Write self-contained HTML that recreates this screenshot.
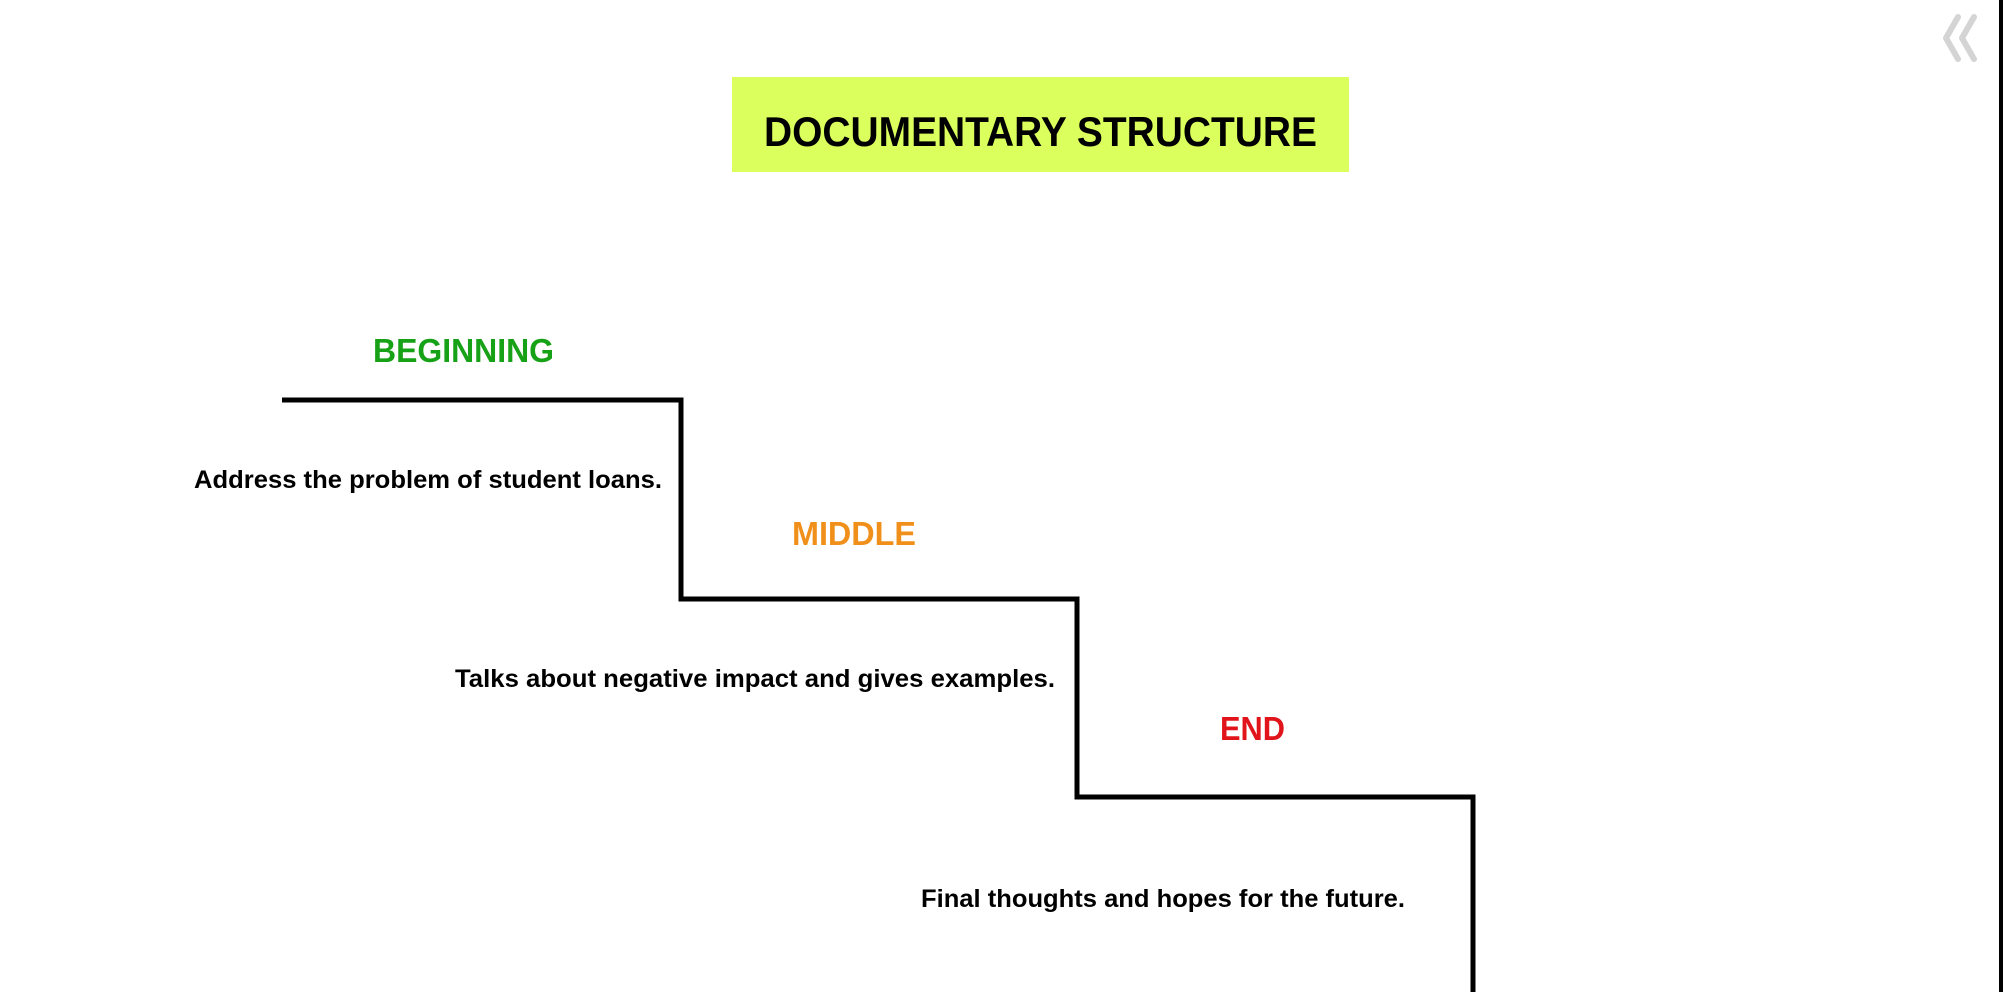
<!DOCTYPE html>
<html><head><meta charset="utf-8"><style>
html,body{margin:0;padding:0;background:#fff;width:2003px;height:992px;overflow:hidden}
svg{display:block}
text{font-family:"Liberation Sans",sans-serif;font-weight:bold}
</style></head><body>
<svg width="2003" height="992" viewBox="0 0 2003 992" xmlns="http://www.w3.org/2000/svg">
<rect x="1999" y="0" width="4" height="992" fill="#000"/>
<polyline points="1958,17 1946,38 1958,59" fill="none" stroke="#d4d4d4" stroke-width="6" stroke-linecap="round" stroke-linejoin="round"/>
<polyline points="1974,17 1962,38 1974,59" fill="none" stroke="#d4d4d4" stroke-width="6" stroke-linecap="round" stroke-linejoin="round"/>
<rect x="732" y="77" width="617" height="95" fill="#dbff5c"/>
<text x="764" y="146" font-size="42" fill="#000" textLength="553" lengthAdjust="spacingAndGlyphs">DOCUMENTARY STRUCTURE</text>
<polyline points="282,400 681,400 681,599 1077,599 1077,797 1473,797 1473,992" fill="none" stroke="#000" stroke-width="5"/>
<text x="373" y="362" font-size="33" fill="#16a116" textLength="181" lengthAdjust="spacingAndGlyphs">BEGINNING</text>
<text x="194" y="488" font-size="25" fill="#000" textLength="468" lengthAdjust="spacingAndGlyphs">Address the problem of student loans.</text>
<text x="792" y="545" font-size="33" fill="#f0901a" textLength="124" lengthAdjust="spacingAndGlyphs">MIDDLE</text>
<text x="455" y="687" font-size="25" fill="#000" textLength="600" lengthAdjust="spacingAndGlyphs">Talks about negative impact and gives examples.</text>
<text x="1220" y="740" font-size="33" fill="#e0141a" textLength="65" lengthAdjust="spacingAndGlyphs">END</text>
<text x="921" y="907" font-size="25" fill="#000" textLength="484" lengthAdjust="spacingAndGlyphs">Final thoughts and hopes for the future.</text>
</svg>
</body></html>
